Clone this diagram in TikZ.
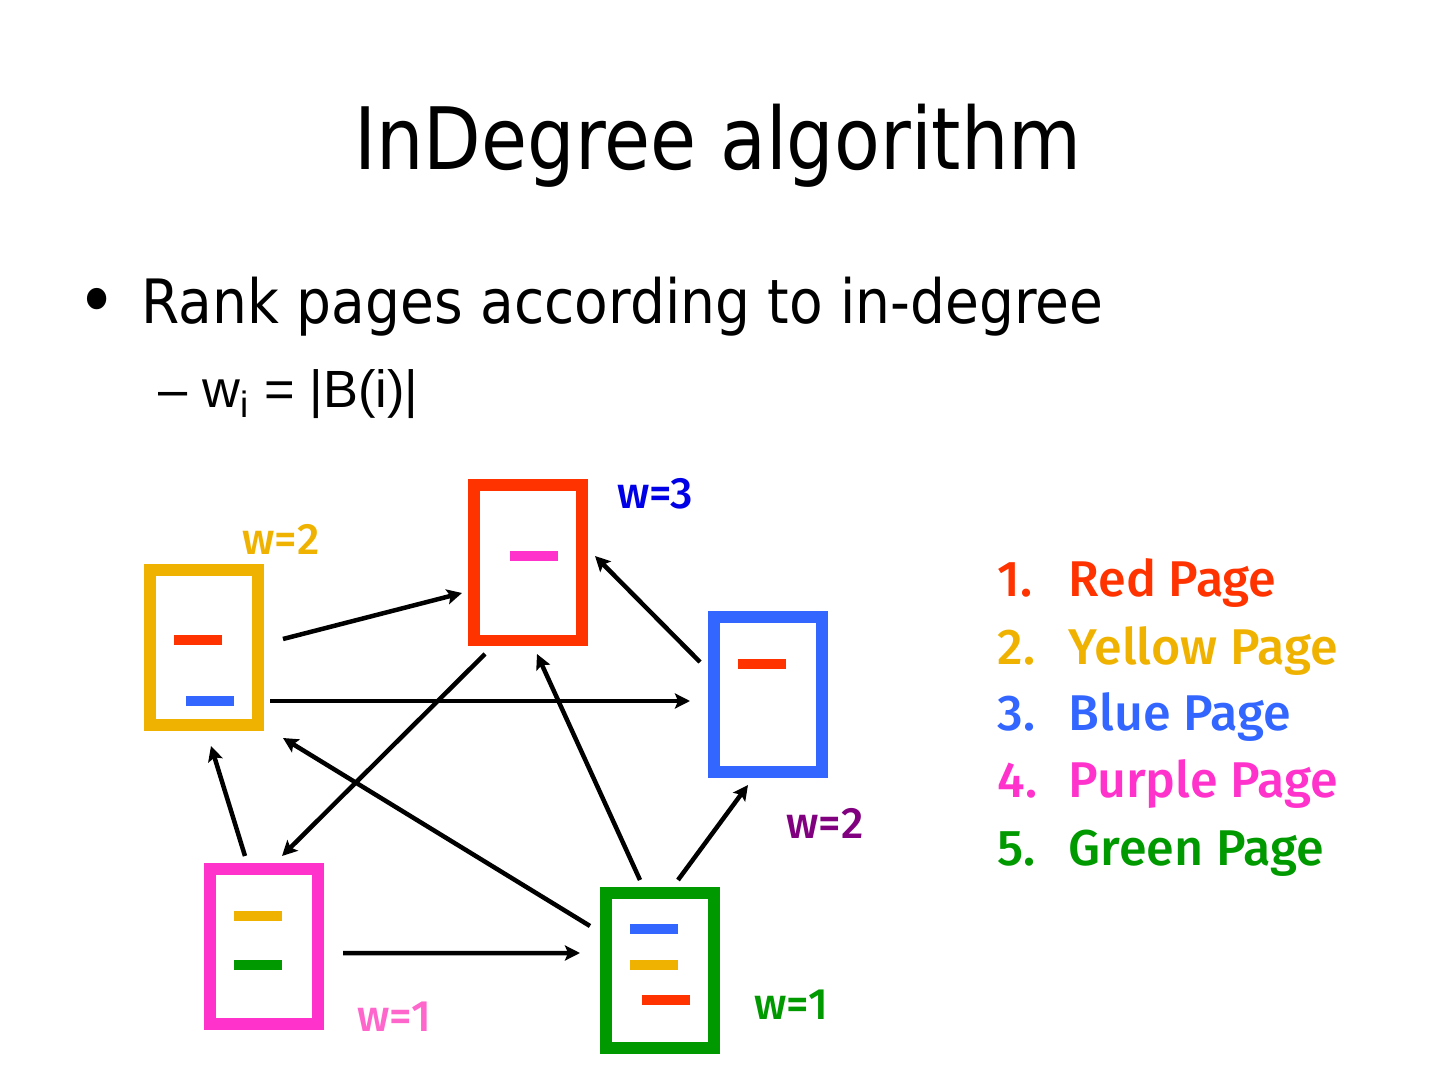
\documentclass[tikz,border=0pt]{standalone}
\usepackage{fontspec}
\setmainfont{DejaVu Sans}[FakeStretch=0.9]
\newfontfamily\titlefont{DejaVu Sans}[FakeStretch=0.87]
\newfontfamily\arialfont{Liberation Sans}
\newfontfamily\labelfont{Fira Sans Medium}
\usetikzlibrary{arrows.meta, positioning}
\definecolor{pagered}{RGB}{255, 51, 0}
\definecolor{pageyellow}{RGB}{240, 178, 0}
\definecolor{pageblue}{RGB}{51, 102, 255}
\definecolor{pagepink}{RGB}{255, 51, 204}
\definecolor{pagegreen}{RGB}{0, 153, 0}
\definecolor{wblue}{RGB}{0, 0, 230}
\definecolor{wpurple}{RGB}{128, 0, 128}
\definecolor{wpink}{RGB}{255, 102, 204}

\begin{document}
\begin{tikzpicture}[
    page/.style={draw, line width=0.12cm, minimum width=1.08cm, minimum height=1.55cm, inner sep=0pt},
    bar/.style={line width=0.1cm},
    arrow/.style={-{Stealth[length=1.5mm, width=1.5mm, inset=0.3mm]}, line width=0.045cm},
    weight/.style={font=\labelfont\fontsize{12.5}{14}\selectfont, anchor=base, inner sep=0pt},
    entry/.style={font=\labelfont\fontsize{14.3}{16}\selectfont, anchor=base west, inner sep=0pt}
]
\useasboundingbox (0, 0) rectangle (14.4, -10.8);

% Title and bullets
\node[anchor=base, font=\titlefont\fontsize{24.5}{29}\selectfont] (title) at (7.18, -1.70) {InDegree algorithm};
\node[anchor=center, inner sep=0pt, font=\fontsize{21}{24}\selectfont] (dot) at (0.97, -3.07) {•};
\node[anchor=base west, inner sep=0pt, font=\fontsize{17.4}{21}\selectfont] (rank) at (1.41, -3.24) {Rank pages according to in-degree};
\node[anchor=base west, inner sep=0pt, font=\arialfont\fontsize{14.9}{17}\selectfont] (rule) at (1.58, -4.08) {– w\textsubscript{i} = |B(i)|};

% Pages
\node[page, draw=pageyellow] (yellow) at (2.04, -6.475) {};
\node[page, draw=pagered] (red) at (5.28, -5.63) {};
\node[page, draw=pageblue] (blue) at (7.675, -6.945) {};
\node[page, draw=pagepink] (pink) at (2.64, -9.46) {};
\node[page, draw=pagegreen] (green) at (6.60, -9.70) {};

% Links inside the pages
\draw[bar, pagered] ([shift={(-0.30, 0.075)}]yellow.center) -- ++(0.48, 0);
\draw[bar, pageblue] ([shift={(-0.18, -0.535)}]yellow.center) -- ++(0.48, 0);
\draw[bar, pagepink] ([shift={(-0.18, 0.07)}]red.center) -- ++(0.48, 0);
\draw[bar, pagered] ([shift={(-0.295, 0.305)}]blue.center) -- ++(0.48, 0);
\draw[bar, pageyellow] ([shift={(-0.30, 0.30)}]pink.center) -- ++(0.48, 0);
\draw[bar, pagegreen] ([shift={(-0.30, -0.19)}]pink.center) -- ++(0.48, 0);
\draw[bar, pageblue] ([shift={(-0.30, 0.41)}]green.center) -- ++(0.48, 0);
\draw[bar, pageyellow] ([shift={(-0.30, 0.05)}]green.center) -- ++(0.48, 0);
\draw[bar, pagered] ([shift={(-0.18, -0.30)}]green.center) -- ++(0.48, 0);

% Hyperlinks
\draw[arrow] ([shift={(0.79, 0.085)}]yellow.center) -- ([shift={(-0.66, -0.30)}]red.center);
\draw[arrow] ([shift={(0.66, -0.535)}]yellow.center) -- ([shift={(-0.775, -0.065)}]blue.center);
\draw[arrow] ([shift={(-0.675, 0.325)}]blue.center) -- ([shift={(0.67, 0.07)}]red.center);
\draw[arrow] ([shift={(-0.43, -0.91)}]red.center) -- ([shift={(0.18, 0.90)}]pink.center);
\draw[arrow] ([shift={(-0.20, 0.90)}]green.center) -- ([shift={(0.09, -0.91)}]red.center);
\draw[arrow] ([shift={(-0.70, 0.44)}]green.center) -- ([shift={(0.79, -0.905)}]yellow.center);
\draw[arrow] ([shift={(-0.19, 0.90)}]pink.center) -- ([shift={(0.07, -0.985)}]yellow.center);
\draw[arrow] ([shift={(0.79, -0.07)}]pink.center) -- ([shift={(-0.80, 0.17)}]green.center);
\draw[arrow] ([shift={(0.18, 0.90)}]green.center) -- ([shift={(-0.195, -0.905)}]blue.center);

% Weights
\node[weight, text=pageyellow] (wyellow) at (2.81, -5.55) {w=2};
\node[weight, text=wblue] (wred) at (6.55, -5.09) {w=3};
\node[weight, text=wpurple] (wblue) at (8.25, -8.38) {w=2};
\node[weight, text=wpink] (wpink) at (3.94, -10.31) {w=1};
\node[weight, text=pagegreen] (wgreen) at (7.91, -10.19) {w=1};

% Ranking
\node[entry, text=pagered] (n1) at (9.97, -5.97) {1.};
\node[entry, text=pagered] (r1) at (10.68, -5.97) {Red Page};
\node[entry, text=pageyellow] (n2) at (9.97, -6.64) {2.};
\node[entry, text=pageyellow] (r2) at (10.68, -6.64) {Yellow Page};
\node[entry, text=pageblue] (n3) at (9.97, -7.31) {3.};
\node[entry, text=pageblue] (r3) at (10.68, -7.31) {Blue Page};
\node[entry, text=pagepink] (n4) at (9.97, -7.98) {4.};
\node[entry, text=pagepink] (r4) at (10.68, -7.98) {Purple Page};
\node[entry, text=pagegreen] (n5) at (9.97, -8.65) {5.};
\node[entry, text=pagegreen] (r5) at (10.68, -8.65) {Green Page};

\end{tikzpicture}
\end{document}
